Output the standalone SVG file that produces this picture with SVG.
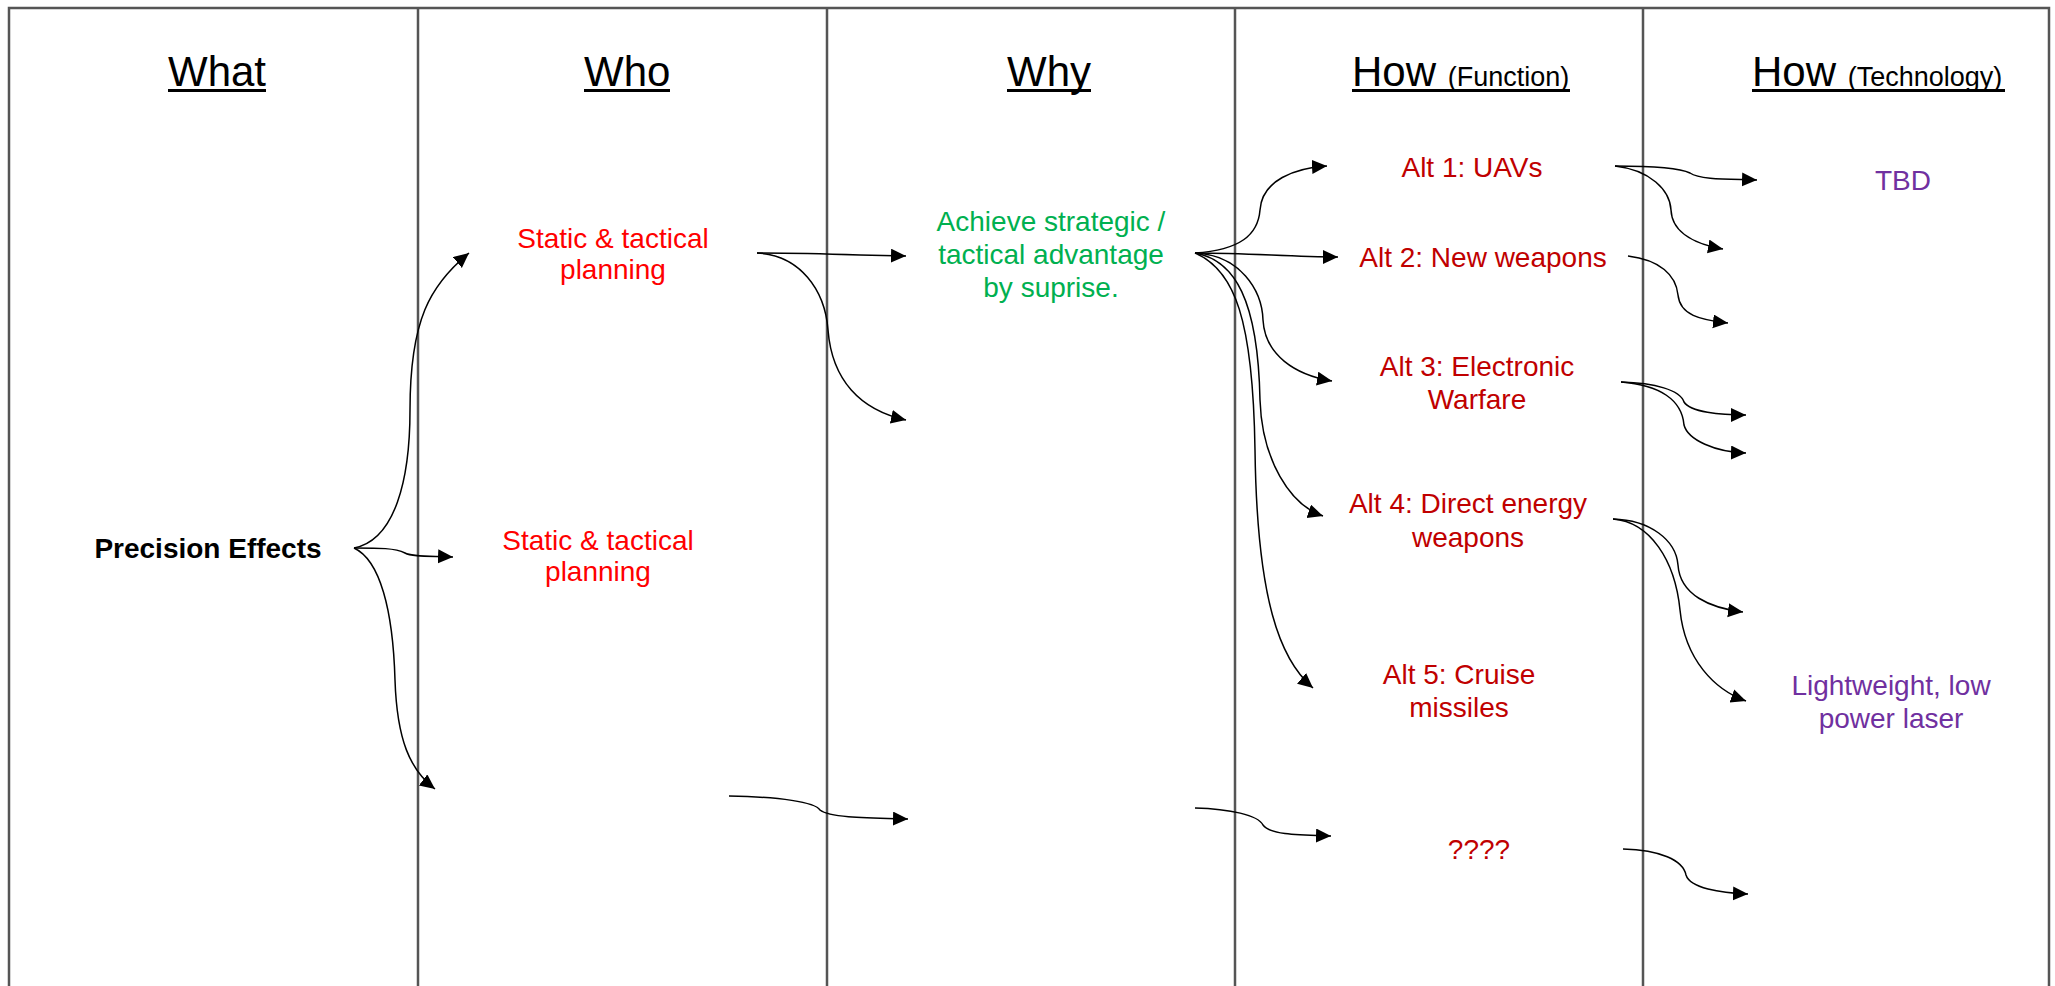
<svg xmlns="http://www.w3.org/2000/svg" width="2055" height="986" viewBox="0 0 2055 986">
  <style>
    text { font-family: "Liberation Sans", Arial, sans-serif; }
    .frame { fill: none; stroke: #555555; stroke-width: 2.5; }
    .hdr { font-size: 42px; fill: #000; }
    .uline { stroke: #000; stroke-width: 3; }
    .sub { font-size: 27px; }
    .lbl { font-size: 28px; text-anchor: middle; }
    .bold { font-weight: bold; fill: #000; }
    .red { fill: #FF0000; }
    .dred { fill: #C00000; }
    .green { fill: #00B050; }
    .purple { fill: #7030A0; }
    .conn { fill: none; stroke: #000; stroke-width: 1.5; marker-end: url(#arrow); }
  </style>
  <defs>
    <marker id="arrow" markerUnits="userSpaceOnUse" markerWidth="17" markerHeight="15" refX="15" refY="7" orient="auto">
      <path d="M0,0 L15,7 L0,14 z" fill="#000"/>
    </marker>
  </defs>
  <rect width="2055" height="986" fill="#fff"/>

  <g id="frame">
    <path class="frame" d="M9,990 L9,8 L2049,8 L2049,990"/>
    <line class="frame" x1="418" y1="8" x2="418" y2="990"/>
    <line class="frame" x1="827" y1="8" x2="827" y2="990"/>
    <line class="frame" x1="1235" y1="8" x2="1235" y2="990"/>
    <line class="frame" x1="1643" y1="8" x2="1643" y2="990"/>
  </g>

  <g id="headers">
    <g id="header-what"><text class="hdr" x="168" y="86">What</text><line class="uline" x1="168" y1="90.5" x2="266" y2="90.5"/></g>
    <g id="header-who"><text class="hdr" x="584" y="86">Who</text><line class="uline" x1="584" y1="90.5" x2="670" y2="90.5"/></g>
    <g id="header-why"><text class="hdr" x="1007" y="86">Why</text><line class="uline" x1="1007" y1="90.5" x2="1091" y2="90.5"/></g>
    <g id="header-how-function"><text class="hdr" x="1352" y="86">How <tspan class="sub">(Function)</tspan></text><line class="uline" x1="1352" y1="90.5" x2="1570" y2="90.5"/></g>
    <g id="header-how-technology"><text class="hdr" x="1752" y="86">How <tspan class="sub">(Technology)</tspan></text><line class="uline" x1="1752" y1="90.5" x2="2005" y2="90.5"/></g>
  </g>

  <g id="connectors">
    <!-- What -> Who -->
    <path class="conn" d="M354,548 C395,540 410,480 410,410 C410,320 430,285 469,253"/>
    <path class="conn" d="M354,548 C380,548 395,548 405,553 C412,557 430,556 453,557"/>
    <path class="conn" d="M354,548 C380,560 393,610 395,680 C397,740 410,770 435,789"/>
    <!-- Who -> Why -->
    <path class="conn" d="M757,253 C800,253 830,254 860,255 L906,256"/>
    <path class="conn" d="M757,253 C800,255 825,290 828,330 C832,380 860,410 906,420"/>
    <path class="conn" d="M729,796 C780,797 815,802 820,810 C830,818 870,818 908,819"/>
    <!-- Why -> How (Function) -->
    <path class="conn" d="M1195,253 C1240,250 1258,235 1260,210 C1262,180 1295,168 1327,166"/>
    <path class="conn" d="M1195,253 C1250,253 1290,257 1338,257"/>
    <path class="conn" d="M1195,253 C1240,255 1262,290 1263,320 C1265,355 1295,375 1332,381"/>
    <path class="conn" d="M1195,253 C1235,260 1258,300 1260,400 C1262,460 1290,505 1323,516"/>
    <path class="conn" d="M1195,253 C1235,270 1253,320 1255,450 C1257,600 1280,660 1313,688"/>
    <path class="conn" d="M1195,808 C1230,809 1258,815 1263,825 C1270,835 1300,835 1331,836"/>
    <!-- How (Function) -> How (Technology) -->
    <path class="conn" d="M1615,166 C1650,166 1680,168 1690,173 C1700,180 1730,179 1757,180"/>
    <path class="conn" d="M1615,166 C1650,170 1670,190 1671,210 C1672,235 1700,245 1723,249"/>
    <path class="conn" d="M1628,256 C1660,260 1676,275 1678,295 C1680,315 1700,320 1728,323"/>
    <path class="conn" d="M1621,382 C1655,383 1680,390 1684,402 C1690,412 1720,415 1746,415"/>
    <path class="conn" d="M1621,382 C1660,385 1682,400 1684,425 C1688,440 1715,452 1746,453"/>
    <path class="conn" d="M1613,519 C1650,520 1676,540 1678,565 C1680,595 1710,608 1743,612"/>
    <path class="conn" d="M1613,519 C1650,522 1675,560 1680,610 C1685,660 1715,690 1746,701"/>
    <path class="conn" d="M1623,849 C1660,850 1683,860 1686,875 C1690,888 1720,893 1748,894"/>
  </g>

  <g id="node-precision-effects">
    <text class="lbl bold" x="208" y="558">Precision Effects</text>
  </g>
  <g id="node-who-1">
    <text class="lbl red"><tspan x="613" y="248">Static &amp; tactical</tspan><tspan x="613" y="279">planning</tspan></text>
  </g>
  <g id="node-who-2">
    <text class="lbl red"><tspan x="598" y="550">Static &amp; tactical</tspan><tspan x="598" y="581">planning</tspan></text>
  </g>
  <g id="node-why-1">
    <text class="lbl green"><tspan x="1051" y="231">Achieve strategic /</tspan><tspan x="1051" y="264">tactical advantage</tspan><tspan x="1051" y="297">by suprise.</tspan></text>
  </g>
  <g id="node-alt1">
    <text class="lbl dred" x="1472" y="177">Alt 1: UAVs</text>
  </g>
  <g id="node-alt2">
    <text class="lbl dred" x="1483" y="267">Alt 2: New weapons</text>
  </g>
  <g id="node-alt3">
    <text class="lbl dred"><tspan x="1477" y="376">Alt 3: Electronic</tspan><tspan x="1477" y="409">Warfare</tspan></text>
  </g>
  <g id="node-alt4">
    <text class="lbl dred"><tspan x="1468" y="513">Alt 4: Direct energy</tspan><tspan x="1468" y="547">weapons</tspan></text>
  </g>
  <g id="node-alt5">
    <text class="lbl dred"><tspan x="1459" y="684">Alt 5: Cruise</tspan><tspan x="1459" y="717">missiles</tspan></text>
  </g>
  <g id="node-alt-unknown">
    <text class="lbl dred" x="1479" y="859">????</text>
  </g>
  <g id="node-tbd">
    <text class="lbl purple" x="1903" y="190">TBD</text>
  </g>
  <g id="node-laser">
    <text class="lbl purple"><tspan x="1891" y="695">Lightweight, low</tspan><tspan x="1891" y="728">power laser</tspan></text>
  </g>
</svg>
